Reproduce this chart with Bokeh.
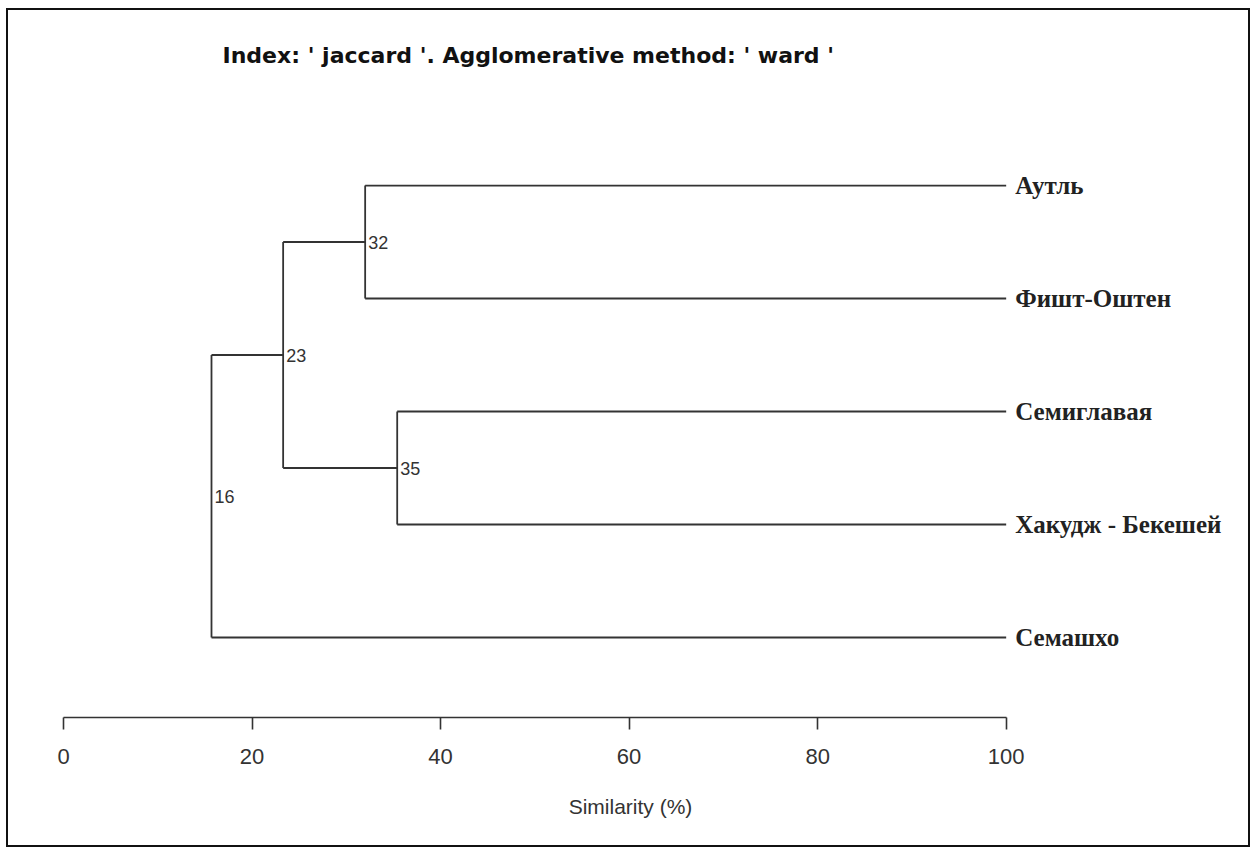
from bokeh.plotting import figure
from bokeh.models import Range1d, FixedTicker, Label
from bokeh.core.properties import value
from bokeh.embed import file_html
from bokeh.resources import INLINE

# ---- data ----
leaves = ["Аутль", "Фишт-Оштен", "Семиглавая", "Хакудж - Бекешей", "Семашхо"]
# merges: children are leaf indices or "n<k>" for earlier merges
merge_a = [0, 2, "n0", "n2"]
merge_b = [1, 3, "n1", 4]
merge_sim = [32.0, 35.4, 23.3, 15.7]
merge_lab = ["32", "35", "23", "16"]
ticks = [0, 20, 40, 60, 80, 100]
title_text = "Index: ' jaccard '. Agglomerative method: ' ward '"

W, H = 1244, 839
p = figure(width=W, height=H, output_backend="svg", toolbar_location=None,
           x_range=Range1d(-5.834, 126.13), y_range=Range1d(4.708, -1.549),
           y_axis_location=None, min_border_left=0, min_border_right=0,
           min_border_top=0, min_border_bottom=132)
p.styles = {"border": "2px solid #111", "margin-left": "6px", "margin-top": "8px"}
p.grid.visible = False
p.outline_line_color = None
p.background_fill_color = "white"
p.border_fill_color = "white"

pos = {}
for i in range(len(leaves)):
    pos[i] = (100.0, float(i))
x0s, y0s, x1s, y1s = [], [], [], []
nx, ny = [], []
for k, (a, b, s) in enumerate(zip(merge_a, merge_b, merge_sim)):
    ax, ay = pos[a]
    bx, by = pos[b]
    x0s.append(s); y0s.append(ay); x1s.append(s); y1s.append(by)
    x0s.append(s); y0s.append(ay); x1s.append(ax); y1s.append(ay)
    x0s.append(s); y0s.append(by); x1s.append(bx); y1s.append(by)
    ym = (ay + by) / 2
    pos["n%d" % k] = (s, ym)
    nx.append(s); ny.append(ym)

p.segment(x0=x0s, y0=y0s, x1=x1s, y1=y1s, line_color="#333333", line_width=1.8)

p.text(x=nx, y=ny, text=merge_lab, x_offset=3, text_baseline="middle",
       text_align="left", text_font=value("Liberation Sans"),
       text_font_size="18px", text_color="#333333")

p.text(x=[100.0] * len(leaves), y=list(range(len(leaves))), text=leaves,
       x_offset=9, text_baseline="middle", text_align="left",
       text_font=value("Liberation Serif"), text_font_style="bold",
       text_font_size="25px", text_color="#222222")

p.add_layout(Label(x=16.87, y=-1.15, text=title_text, text_baseline="middle",
                   text_font="DejaVu Sans", text_font_style="bold",
                   text_font_size="22px", text_color="#111111"))

ax_ = p.xaxis[0]
ax_.ticker = FixedTicker(ticks=ticks)
ax_.bounds = (0, 100)
ax_.minor_tick_line_color = None
ax_.major_tick_in = 0
ax_.major_tick_out = 12
ax_.axis_line_color = "#333333"
ax_.axis_line_width = 1.6
ax_.major_tick_line_color = "#333333"
ax_.major_tick_line_width = 1.6
ax_.major_label_standoff = 19
ax_.major_label_text_font = "Liberation Sans"
ax_.major_label_text_font_size = "22px"
ax_.major_label_text_color = "#333333"
ax_.axis_label = "Similarity (%)"
ax_.axis_label_standoff = 28
ax_.axis_label_text_font = "Liberation Sans"
ax_.axis_label_text_font_style = "normal"
ax_.axis_label_text_font_size = "21px"
ax_.axis_label_text_color = "#333333"

open("out.html", "w").write(file_html(p, INLINE))
